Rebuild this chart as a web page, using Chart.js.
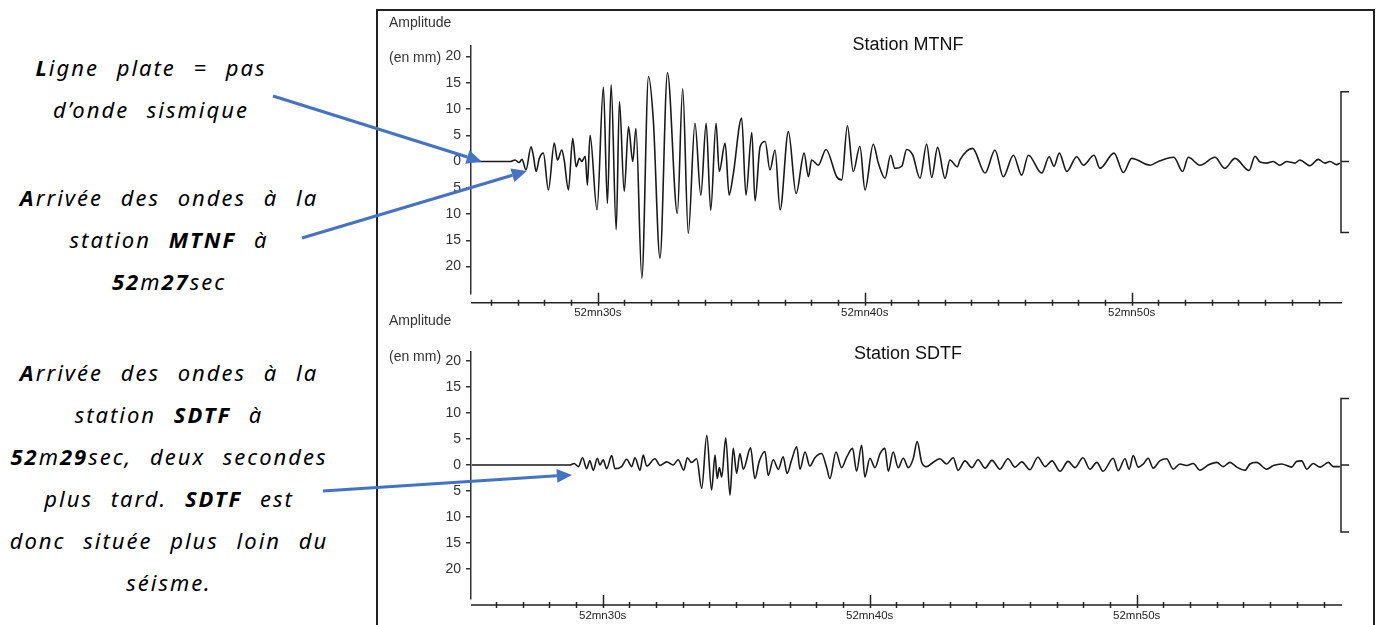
<!DOCTYPE html>
<html>
<head>
<meta charset="utf-8">
<script src="https://cdn.jsdelivr.net/npm/chart.js"></script>
<style>
  body { margin: 0; background: #fff; width: 1381px; height: 625px; overflow: hidden; position: relative;
         font-family: "Liberation Sans", Arial, sans-serif; }
  .frame { position: absolute; left: 376px; top: 9px; width: 995px; height: 640px; border: 2px solid #222; }
  canvas { position: absolute; }
  .lbl { position: absolute; font-size: 14px; line-height: 16px; color: #333; white-space: nowrap; }
  .title { position: absolute; font-size: 18px; line-height: 20px; color: #111; white-space: nowrap; transform: translateX(-50%); }
  .note { position: absolute; left: 0; font-family: "Noto Sans", sans-serif; font-style: italic; font-size: 22px;
          line-height: 42px; text-align: center; letter-spacing: 2px; word-spacing: 10px; color: #000; white-space: nowrap; }
  #arrows { position: absolute; left: 0; top: 0; pointer-events: none; }
</style>
</head>
<body>
<div class="frame"></div>

<div class="note" style="top:46px; width:302px;"><b>L</b>igne plate = pas<br>d’onde sismique</div>
<div class="note" style="top:176px; width:338px;"><b>A</b>rrivée des ondes à la<br>station <b>MTNF</b> à<br><b>52</b>m<b>27</b>sec</div>
<div class="note" style="top:351px; width:338px;"><b>A</b>rrivée des ondes à la<br>station <b>SDTF</b> à<br><b>52</b>m<b>29</b>sec, deux secondes<br>plus tard. <b>SDTF</b> est<br>donc située plus loin du<br>séisme.</div>

<canvas id="mtnf" width="998" height="316" style="left:376px; top:10px;"></canvas>
<canvas id="sdtf" width="998" height="313" style="left:376px; top:312px;"></canvas>

<div class="lbl" style="left:389px; top:14px;">Amplitude</div>
<div class="lbl" style="left:389px; top:49px;">(en mm)</div>
<div class="title" style="left:908px; top:34px;">Station MTNF</div>
<div class="lbl" style="left:389px; top:312px;">Amplitude</div>
<div class="lbl" style="left:389px; top:348px;">(en mm)</div>
<div class="title" style="left:908px; top:343px;">Station SDTF</div>

<canvas id="arrows" width="1381" height="625"></canvas>

<script>
// === Data (time in s after 52 mn, amplitude in mm) ===
const mtnfTime = [
    25.29, 26.72, 26.90, 27.05, 27.16, 27.31, 27.50, 27.59, 27.69, 27.81,
    27.96, 28.15, 28.37, 28.49, 28.65, 28.74, 28.90, 29.06, 29.19, 29.31,
    29.40, 29.53, 29.61, 29.71, 29.97, 30.21, 30.36, 30.50, 30.69, 30.81, 30.99, 31.15,
    31.31, 31.43, 31.65, 31.90, 32.08, 32.33, 32.61, 32.98, 33.18, 33.39,
    33.64, 33.86, 34.06, 34.23, 34.43, 34.55, 34.77, 34.92, 35.07, 35.39,
    35.55, 35.77, 35.89, 36.08, 36.27, 36.45, 36.64, 36.83, 37.14, 37.43,
    37.73, 37.89, 38.01, 38.26, 38.55, 38.95, 39.14, 39.35, 39.57, 39.82,
    40.01, 40.32, 40.51, 40.76, 40.97, 41.13, 41.39, 41.57, 41.80, 42.07,
    42.32, 42.51, 42.73, 43.01, 43.19, 43.47, 43.57, 44.04, 44.51, 44.88,
    45.19, 45.57, 45.88, 46.13, 46.63, 46.91, 47.09, 47.29, 47.57, 47.94,
    48.19, 48.59, 48.81, 49.34, 49.69, 50.00, 50.69, 51.00, 51.58, 51.91,
    52.12, 52.56, 53.12, 53.49, 53.87, 54.40, 54.62, 54.81, 55.06, 55.30,
    55.55, 55.81, 56.12, 56.30, 56.68, 56.99, 57.24, 57.43, 57.68, 57.80
];
const mtnfAmp = [
    0, 0, 0.3, -0.2, 0.4, -1.6, 2.8, 1.0, -1.9, 0.6,
    1.6, -5.4, 3.5, 0.3, 2.2, 0.3, -5.4, 4.4, -1.0, 0.6,
    0, 1.0, -4.5, 5.0, -9.2, 14.2, -8.0, 14.6, -13.0, 11.4, -5.7, 6.6,
    0, 6.3, -22.2, 16.2, 7.9, -18.4, 16.9, -9.9, 13.9, -13.7,
    7.3, -6.4, 7.3, -9.3, 7.3, -1.9, 3.5, -6.4, -2.6, 8.3,
    -6.4, 5.5, -7.5, 2.8, 3.8, -1.6, 2.2, -9.2, 5.7, -6.1,
    1.6, -2.9, 0.3, -0.7, 2.3, -2.9, -3.5, 6.8, -1.9, 2.9,
    -5.4, 3.3, -0.3, -3.2, 1.2, -1.3, -0.9, 2.3, 1.2, -3.2,
    3.3, -3.0, 2.7, -3.2, 0.3, -1.0, 0.3, 2.5, -2.2, 2.2,
    -2.9, 1.2, -2.6, 1.2, -2.2, 0.9, -0.9, 1.6, -1.9, 0.9,
    -0.7, 1.2, -1.3, 1.6, -2.1, 0.6, -0.7, 0, 0.8, -1.9,
    0.8, -0.7, 0.8, -1.3, 0.6, -1.7, 1.0, -0.1, -0.3, 0,
    -0.7, 0, -0.3, 0.3, -0.8, 0.4, -0.3, 0, -0.6, -0.3
];

const sdtfTime = [
    25.10, 28.78, 28.93, 29.09, 29.25, 29.40, 29.52, 29.65, 29.80, 29.90,
    30.02, 30.15, 30.34, 30.46, 30.71, 30.90, 31.09, 31.21, 31.40, 31.52,
    31.65, 31.96, 32.15, 32.40, 32.64, 32.83, 33.04, 33.17, 33.33, 33.52,
    33.71, 33.90, 34.08, 34.21, 34.29, 34.37, 34.46, 34.61, 34.77, 34.89,
    35.02, 35.14, 35.27, 35.54, 35.70, 35.87, 36.08, 36.20, 36.39, 36.58,
    36.76, 36.91, 37.08, 37.27, 37.39, 37.58, 37.76, 37.95, 38.20, 38.39,
    38.51, 38.74, 38.95, 39.14, 39.36, 39.51, 39.70, 39.82, 40.01, 40.20,
    40.39, 40.57, 40.70, 40.88, 41.07, 41.26, 41.45, 41.63, 41.78, 41.95,
    42.13, 42.32, 42.63, 42.88, 43.13, 43.31, 43.57, 43.83, 44.06, 44.32,
    44.58, 44.88, 45.18, 45.44, 45.70, 46.00, 46.30, 46.57, 46.83, 47.13,
    47.43, 47.69, 47.99, 48.25, 48.51, 48.74, 49.12, 49.31, 49.56, 49.72,
    49.87, 50.06, 50.25, 50.43, 50.62, 50.87, 51.12, 51.37, 51.62, 51.87,
    52.12, 52.37, 52.68, 53.00, 53.24, 53.49, 53.75, 54.06, 54.24, 54.49,
    54.87, 55.12, 55.43, 55.81, 55.99, 56.18, 56.37, 56.61, 56.87, 57.18,
    57.36, 57.61
];
const sdtfAmp = [
    0, 0, 0.3, -0.3, 1.4, -0.7, 0.8, -1.0, 1.3, 0,
    1.0, -0.7, 1.8, -0.7, -0.3, 1.1, -0.3, 1.4, -1.0, 1.9,
    -0.2, 1.2, -0.1, 0.6, 0, 1.0, -1.0, 1.4, 0.5, 1.2,
    -4.5, 5.7, -4.8, 1.9, -2.6, -0.5, -2.3, 5.2, -5.8, 3.2,
    -1.6, 2.2, -0.8, 3.3, -2.6, 0.8, 2.6, -2.0, 1.0, -0.8,
    1.6, -1.6, 1.0, 3.5, -0.8, 2.5, -0.2, 1.4, 2.2, -0.5,
    -2.6, 2.5, -0.5, 1.5, 3.2, -1.2, 3.8, -2.3, 1.3, -0.5,
    2.2, 3.2, -1.2, 2.5, -0.5, 1.3, -0.5, 1.2, 4.5, 0.5,
    -0.3, 0.3, 1.2, 0.2, 1.4, -1.0, 0.8, -0.5, 1.0, -0.6,
    0.9, -0.8, 1.2, -0.4, 0.6, -0.9, 1.5, -0.3, 0.8, -1.2,
    0.7, -0.5, 1.4, -0.8, 0.5, -1.2, 1.3, -1.1, 1.2, -0.8,
    1.8, -0.4, 0.2, 1.3, -0.6, 0.8, 1.2, -0.8, 0.2, -0.1,
    0.3, -1.0, 0, 0.5, -0.3, 0.5, -0.4, -1.0, 0.2, 0.5,
    -0.8, -0.1, 0.2, -0.4, 0.7, 0.8, -0.8, 0.3, -0.4, 0.5,
    -0.3, -0.3
];

const ampTicks = [20, 15, 10, 5, 0, -5, -10, -15, -20];
const majorSeconds = [30, 40, 50];
const majorLabels = ['52mn30s', '52mn40s', '52mn50s'];
const calibMTNF = [13.3, 0, -13.5];
const calibSDTF = [12.8, 0, -12.9];
const arrowTime = [25.65, 27.34, 28.85];
const arrowAmp = [0, -1.8, -1.9];

// === Axis line, second ticks and calibration bracket ===
const traceFrame = {
    id: 'traceFrame',
    afterDraw(chart, args, opts) {
        const { ctx, chartArea: area, scales: { x, y } } = chart;
        const base = area.bottom + opts.gap;
        ctx.save();
        ctx.strokeStyle = '#222';
        ctx.lineWidth = 1.5;
        ctx.beginPath();
        ctx.moveTo(area.left, base);
        ctx.lineTo(area.right, base);
        x.ticks.forEach(tick => {
            const px = Math.round(x.getPixelForValue(tick.value)) + 0.5;
            const major = majorSeconds.includes(tick.value);
            ctx.moveTo(px, base - (major ? 10 : 3));
            ctx.lineTo(px, base + 3);
        });
        const bx = area.right - 1;
        const [top, mid, bottom] = opts.calib.map(v => y.getPixelForValue(v));
        ctx.moveTo(bx + 8, top);
        ctx.lineTo(bx, top);
        ctx.lineTo(bx, bottom);
        ctx.lineTo(bx + 8, bottom);
        ctx.moveTo(bx, mid);
        ctx.lineTo(bx + 8, mid);
        ctx.stroke();
        ctx.restore();
    }
};

function makeTrace(id, time, amp, cfg) {
    return new Chart(document.getElementById(id), {
        type: 'line',
        data: {
            datasets: [{
                data: time.map((t, i) => ({ x: t, y: amp[i] })),
                borderColor: '#1a1a1a',
                borderWidth: 1.6,
                pointRadius: 0,
                cubicInterpolationMode: 'monotone'
            }]
        },
        options: {
            responsive: false,
            animation: false,
            layout: { padding: { top: cfg.padTop, right: 32, left: 0, bottom: 0 } },
            plugins: {
                legend: { display: false },
                tooltip: { enabled: false },
                traceFrame: { gap: cfg.gap, calib: cfg.calib }
            },
            scales: {
                x: {
                    type: 'linear',
                    min: cfg.xMin,
                    max: cfg.xMax,
                    afterFit: s => { s.height = cfg.xHeight; },
                    afterBuildTicks: s => {
                        s.ticks = [];
                        for (let t = Math.ceil(s.min); t <= s.max; t++) s.ticks.push({ value: t });
                    },
                    border: { display: false },
                    grid: { display: false, drawTicks: false },
                    ticks: {
                        autoSkip: false,
                        maxRotation: 0,
                        padding: cfg.labelPad,
                        color: '#222',
                        font: { family: "'Liberation Sans', Arial, sans-serif", size: 11.5 },
                        callback: v => {
                            const k = majorSeconds.indexOf(v);
                            return k < 0 ? '' : majorLabels[k];
                        }
                    }
                },
                y: {
                    min: cfg.yMin,
                    max: cfg.yMax,
                    afterFit: s => { s.width = 95; },
                    afterBuildTicks: s => { s.ticks = ampTicks.map(v => ({ value: v })); },
                    border: { display: true, color: '#333', width: 1.5 },
                    grid: { drawOnChartArea: false, drawTicks: true, tickLength: 5, color: '#333', lineWidth: 1.5 },
                    ticks: {
                        padding: 5,
                        color: '#333',
                        font: { family: "'Liberation Sans', Arial, sans-serif", size: 14 },
                        callback: v => Math.abs(v)
                    }
                }
            }
        },
        plugins: [traceFrame]
    });
}

const mtnfChart = makeTrace('mtnf', mtnfTime, mtnfAmp, {
    xMin: 25.25, xMax: 57.88, yMin: -25.1, yMax: 22.06,
    padTop: 35.7, xHeight: 32.7, gap: 9.4, labelPad: 12.5, calib: calibMTNF
});
const sdtfChart = makeTrace('sdtf', sdtfTime, sdtfAmp, {
    xMin: 25.07, xMax: 57.69, yMin: -25.63, yMax: 21.79,
    padTop: 39.7, xHeight: 26.7, gap: 6.7, labelPad: 11, calib: calibSDTF
});

// === Blue arrows from the notes to the traces ===
const arrowCharts = [mtnfChart, mtnfChart, sdtfChart];
const arrowTails = [[273, 96], [302, 238], [323, 491]];
const actx = document.getElementById('arrows').getContext('2d');
actx.strokeStyle = '#4472c4';
actx.fillStyle = '#4472c4';
actx.lineWidth = 3;

arrowCharts.forEach((chart, i) => {
    const cv = chart.canvas;
    const x1 = cv.offsetLeft + chart.scales.x.getPixelForValue(arrowTime[i]);
    const y1 = cv.offsetTop + chart.scales.y.getPixelForValue(arrowAmp[i]);
    const [x0, y0] = arrowTails[i];
    const a = Math.atan2(y1 - y0, x1 - x0);
    const len = 15, half = 7;
    const bx = x1 - len * Math.cos(a), by = y1 - len * Math.sin(a);
    actx.beginPath();
    actx.moveTo(x0, y0);
    actx.lineTo(bx, by);
    actx.stroke();
    actx.beginPath();
    actx.moveTo(x1, y1);
    actx.lineTo(bx + half * Math.sin(a), by - half * Math.cos(a));
    actx.lineTo(bx - half * Math.sin(a), by + half * Math.cos(a));
    actx.closePath();
    actx.fill();
});
</script>
</body>
</html>
